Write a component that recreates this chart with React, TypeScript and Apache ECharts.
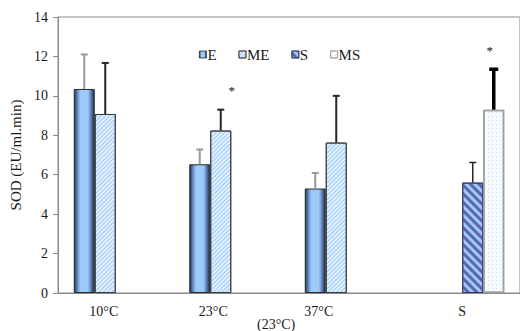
import React, { useEffect, useRef } from "react";
import * as echarts from "echarts";

const categories = ["10°C", "23°C", "37°C", "S"];
const eValues = [10.35, 6.53, 5.3, null];
const eErrors = [1.75, 0.75, 0.79, null];
const meValues = [9.08, 8.24, 7.63, null];
const meErrors = [2.59, 1.06, 2.37, null];
const sValues = [null, null, null, 5.6];
const sErrors = [null, null, null, 1.02];
const msValues = [null, null, null, 9.3];
const msErrors = [null, null, null, 2.05];
const meSignificant = [false, true, false, false];
const msSignificant = [false, false, false, true];
const yMin = 0;
const yMax = 14;
const yInterval = 2;
const yAxisName = "SOD (EU/ml.min)";
const xNote = "(23°C)";

const FONT = "Liberation Serif";
const BAR_W = 21;
const labelShiftPad = [24, 36, 56, 0];

const seriesDefs = [
  {
    name: "E",
    values: eValues,
    errors: eErrors,
    sig: [false, false, false, false],
    astDx: 0,
    itemStyle: {
      color: new echarts.graphic.LinearGradient(0, 0, 1, 0, [
        { offset: 0, color: "#1f3353" },
        { offset: 0.1, color: "#4a6a9c" },
        { offset: 0.22, color: "#7fa6d8" },
        { offset: 0.32, color: "#9ccbfa" },
        { offset: 0.68, color: "#9ccbfa" },
        { offset: 0.8, color: "#6f93c6" },
        { offset: 0.92, color: "#3b5683" },
        { offset: 1, color: "#1f3353" },
      ]),
      borderColor: "#2a2a2a",
      borderWidth: 1,
    },
    err: { stroke: "#9a9a9a", lineWidth: 2 },
  },
  {
    name: "ME",
    values: meValues,
    errors: meErrors,
    sig: meSignificant,
    astDx: 11,
    itemStyle: {
      color: "#e2f0ff",
      borderColor: "#3a3a3a",
      borderWidth: 1,
      decal: {
        symbol: "rect",
        symbolSize: 1,
        dashArrayX: [1, 0],
        dashArrayY: [1, 1.5],
        rotation: -Math.PI / 4,
        color: "#9ccaf5",
      },
    },
    err: { stroke: "#262626", lineWidth: 2 },
  },
  {
    name: "S",
    values: sValues,
    errors: sErrors,
    sig: [false, false, false, false],
    astDx: 0,
    itemStyle: {
      color: "#9ccbfa",
      borderColor: "#3a3a60",
      borderWidth: 1,
      decal: {
        symbol: "rect",
        symbolSize: 1,
        dashArrayX: [1, 0],
        dashArrayY: [2.5, 2.5],
        rotation: Math.PI / 4,
        color: "#5c66ae",
      },
    },
    err: { stroke: "#262626", lineWidth: 1.5 },
  },
  {
    name: "MS",
    values: msValues,
    errors: msErrors,
    sig: msSignificant,
    astDx: -4,
    itemStyle: {
      color: "#f7fbff",
      borderColor: "#a0a0a0",
      borderWidth: 1.5,
      decal: {
        symbol: "rect",
        symbolSize: 1,
        dashArrayX: [1, 3],
        dashArrayY: [1, 3],
        rotation: 0,
        color: "#c6def5",
      },
    },
    err: { stroke: "#000000", lineWidth: 3.5 },
  },
];

export default function App() {
  const ref = useRef<HTMLDivElement>(null);
  useEffect(() => {
    if (!ref.current) return;
    const chart = echarts.init(ref.current, undefined, { renderer: "svg" });
    const n = seriesDefs.length;
    const series: any[] = [];
    seriesDefs.forEach((d) => {
      series.push({
        name: d.name,
        type: "bar",
        barWidth: BAR_W,
        barGap: "0%",
        data: d.values,
        itemStyle: d.itemStyle,
        emphasis: { disabled: true },
      });
    });
    seriesDefs.forEach((d, k) => {
      const data: any[] = [];
      d.values.forEach((v, i) => {
        if (v != null && d.errors[i] != null) data.push([i, v, d.errors[i], d.sig[i] ? 1 : 0]);
      });
      series.push({
        name: d.name + "-err",
        type: "custom",
        data,
        z: 5,
        silent: true,
        itemStyle: { color: "#111111" },
        renderItem: (params: any, api: any) => {
          const cat = api.value(0);
          const v = api.value(1);
          const sd = api.value(2);
          const sig = api.value(3);
          const base = api.coord([cat, v]);
          const top = api.coord([cat, v + sd]);
          const x = base[0] + (k - (n - 1) / 2) * BAR_W;
          const half = d.name === "MS" ? 4.5 : 3.5;
          const children: any[] = [
            {
              type: "line",
              shape: { x1: x, y1: base[1], x2: x, y2: top[1] },
              style: { stroke: d.err.stroke, lineWidth: d.err.lineWidth },
            },
            {
              type: "line",
              shape: { x1: x - half, y1: top[1], x2: x + half, y2: top[1] },
              style: { stroke: d.err.stroke, lineWidth: d.err.lineWidth },
            },
          ];
          if (sig) {
            children.push({
              type: "text",
              x: x + d.astDx,
              y: top[1] - 19,
              style: {
                text: "*",
                fill: "#111111",
                fontFamily: FONT,
                fontSize: 13,
                align: "center",
                verticalAlign: "middle",
              },
            });
          }
          return { type: "group", children };
        },
      });
    });

    const rich: any = {};
    categories.forEach((_, i) => {
      rich["c" + i] = {
        fontFamily: FONT,
        fontSize: 14,
        color: "#1a1a1a",
        padding: [0, labelShiftPad[i], 0, 0],
      };
    });

    chart.setOption({
      animation: false,
      backgroundColor: "#ffffff",
      textStyle: { fontFamily: FONT },
      grid: {
        left: 56,
        right: -6,
        top: 17,
        bottom: 38,
        show: true,
        borderColor: "#8a8a8a",
        borderWidth: 1,
        backgroundColor: "transparent",
      },
      legend: {
        data: seriesDefs.map((d) => d.name),
        left: 194,
        top: 42,
        itemWidth: 7,
        itemHeight: 7,
        itemGap: 22,
        icon: "rect",
        selectedMode: false,
        itemStyle: { borderWidth: 0.8 },
        textStyle: {
          fontFamily: FONT,
          fontSize: 15,
          fontWeight: "normal",
          color: "#1a1a1a",
          padding: [0, 0, 0, -4],
        },
      },
      xAxis: {
        type: "category",
        data: categories,
        axisLine: { show: true, lineStyle: { color: "#8a8a8a", width: 1 } },
        axisTick: { show: false },
        axisLabel: {
          margin: 11,
          interval: 0,
          formatter: (v: string, i: number) => `{c${i}|${v}}`,
          rich,
        },
      },
      yAxis: {
        type: "value",
        min: yMin,
        max: yMax,
        interval: yInterval,
        name: yAxisName,
        nameLocation: "middle",
        nameGap: 35,
        nameTextStyle: { fontFamily: FONT, fontSize: 15, color: "#1a1a1a" },
        axisLine: { show: true, lineStyle: { color: "#8a8a8a", width: 1 } },
        axisTick: { show: true, length: 5, lineStyle: { color: "#8a8a8a" } },
        splitLine: { show: false },
        axisLabel: {
          margin: 10,
          fontFamily: FONT,
          fontSize: 14,
          color: "#1a1a1a",
        },
      },
      graphic: [
        {
          type: "text",
          left: 257,
          top: 317,
          style: { text: xNote, font: `14px ${FONT}`, fill: "#1a1a1a" },
        },
      ],
      series,
    });
    return () => chart.dispose();
  }, []);
  return <div ref={ref} style={{ width: 520, height: 331, position: "absolute", left: 0, top: 0 }} />;
}
